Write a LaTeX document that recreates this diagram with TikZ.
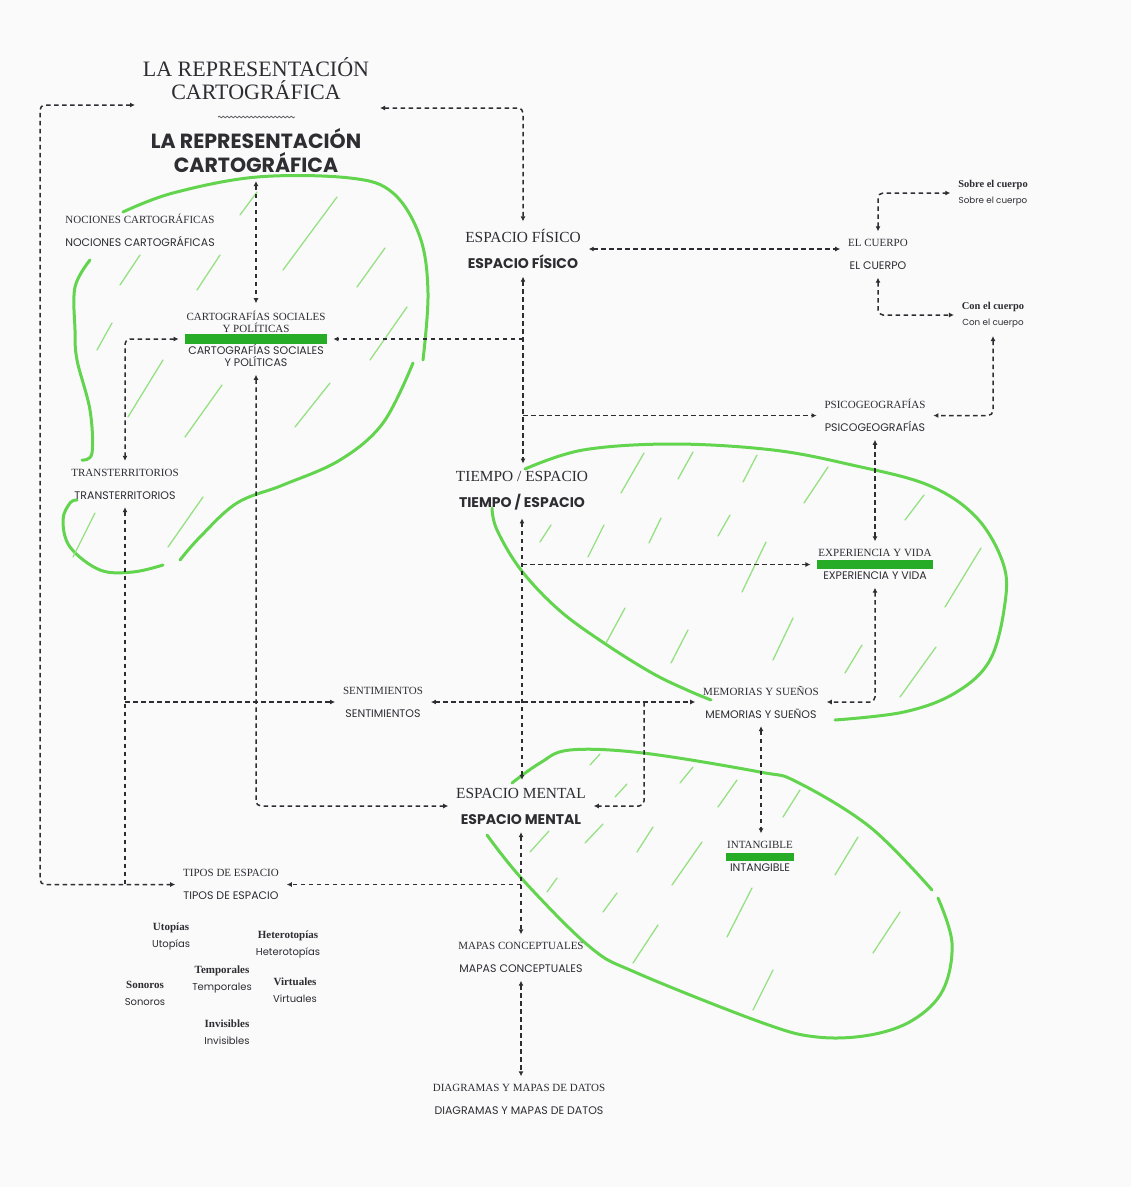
\documentclass[tikz,border=0pt]{standalone}
\usepackage{fontspec}
\setmainfont{Liberation Serif}
\newfontfamily\serf[Scale=1.1]{Liberation Serif}
\newfontfamily\sanf{Poppins}
\newfontfamily\sanfw[Scale=1.1]{Poppins}
\newfontfamily\sanfn[Scale=0.92]{Poppins}
\usetikzlibrary{arrows.meta}
\usetikzlibrary{decorations.pathmorphing}

\definecolor{ink}{RGB}{45,45,50}
\definecolor{leaf}{RGB}{98,212,78}
\definecolor{leafpale}{RGB}{150,225,130}
\definecolor{marker}{RGB}{38,172,38}
\definecolor{paper}{RGB}{250,250,251}

\newcommand{\duo}[2]{{\serf #1}\\{\sanfw #2}}
\newcommand{\duom}[2]{{\serf #1}\\{\sanf\bfseries #2}}
\newcommand{\duot}[2]{{\serf\bfseries #1}\\{\sanfn #2}}
\newcommand{\duou}[2]{{\serf\bfseries #1}\\{\sanf #2}}

\tikzset{
  item/.style={align=center, text=ink, inner sep=3pt, outer sep=5pt},
  midlbl/.style={item, font=\fontsize{14}{26}\selectfont},
  smalllbl/.style={item, font=\fontsize{10}{23}\selectfont},
  tinylbl/.style={item, font=\fontsize{9.5}{16.5}\selectfont},
  kindlbl/.style={item, font=\fontsize{10}{17}\selectfont},
  link/.style={ink, line width=1.5pt, dash pattern=on 4.5pt off 3.5pt, rounded corners=5pt,
    {Latex[length=5pt,width=5pt]}-{Latex[length=5pt,width=5pt]}},
  linkto/.style={link, -{Latex[length=5pt,width=5pt]}},
  linkfrom/.style={link, {Latex[length=5pt,width=5pt]}-},
  blob/.style={leaf, line width=3pt, line cap=round, line join=round},
  hatch/.style={leafpale, line width=1.3pt, line cap=round},
  bar/.style={marker, line width=9pt},
}

\begin{document}
\begin{tikzpicture}[x=1pt, y=-1pt]
    \fill[paper] (0,0) rectangle (1131,1187); % sheet

    % green outlines
    \draw[blob] plot[smooth, tension=0.6] coordinates {(123,212) (173,193) (257,177) (350,178) (393,193) (420,237) (428,293) (423,360)};
    \draw[blob] plot[smooth, tension=0.6] coordinates {(413,363) (383,423) (340,460) (283,485) (237,503) (200,537) (180,560)};
    \draw[blob] plot[smooth, tension=0.6] coordinates {(163,565) (133,572) (100,570) (70,547) (63,520) (70,503) (77,500)};
    \draw[blob] plot[smooth, tension=0.6] coordinates {(90,260) (75,287) (75,330) (77,360) (90,410) (92,453) (82,460)};
    \draw[blob] plot[smooth, tension=0.6] coordinates {(525,469) (583,450) (673,444) (773,450) (852,465) (928,485) (976,517) (1003,563) (1005,603) (990,660) (955,693) (904,712) (835,720)};
    \draw[blob] plot[smooth, tension=0.6] coordinates {(492,508) (497,530) (521,570) (559,610) (604,643) (652,673) (687,690) (711,700)};
    \draw[blob] plot[smooth, tension=0.6] coordinates {(512,783) (540,763) (570,750) (643,753) (760,772) (797,782) (870,827) (932,890)};
    \draw[blob] plot[smooth, tension=0.6] coordinates {(938,898) (952,943) (943,990) (913,1020) (870,1035) (817,1037) (763,1023) (637,973) (590,947) (523,880) (487,835)};

    % hatching
    \foreach \xa/\ya/\xb/\yb in {240/215/257/192, 283/270/337/197, 120/285/140/255, 197/290/220/255,
        357/287/385/248, 97/350/112/323, 370/360/407/307, 128/417/163/360, 185/437/222/385,
        295/427/330/383, 168/547/203/497, 73/557/95/513,
        621/493/644/453, 678/479/693/452, 743/482/757/455, 804/503/828/467, 905/520/924/495,
        540/542/551/525, 588/557/604/525, 649/543/661/518, 718/536/730/515, 742/592/766/542,
        945/607/981/548, 606/643/625/608, 671/663/688/630, 773/660/793/618, 845/673/862/645,
        900/697/936/647,
        590/765/600/754, 615/797/627/784, 530/852/549/831, 585/843/603/824, 637/852/653/827,
        680/783/693/767, 718/807/737/780, 783/817/800/790, 547/892/557/878, 603/912/617/893,
        672/885/702/842, 633/963/658/925, 727/937/752/888, 835/875/858/837, 873/953/900/912,
        753/1010/773/970}
        \draw[hatch] (\xa,\ya) -- (\xb,\yb);

    % titles
    \node[item, font=\serf\fontsize{20}{23}\selectfont] (titA) at (256,78.5) {LA REPRESENTACIÓN\\CARTOGRÁFICA};
    \draw[ink!75, line width=0.8pt, decorate, decoration={snake, amplitude=0.8pt, segment length=4pt}] (218,117) -- (295,117);
    \node[item, font=\sanf\bfseries\fontsize{20.5}{24}\selectfont] (titB) at (256,151) {LA REPRESENTACIÓN\\CARTOGRÁFICA};
    \coordinate (titW) at (135,105);
    \coordinate (titE) at (380,108);

    % labels
    \node[smalllbl] (noc) at (140,230.5) {\duo{NOCIONES CARTOGRÁFICAS}{NOCIONES CARTOGRÁFICAS}};
    \node[item, font=\fontsize{10}{12}\selectfont] (car) at (256,339)
        {{\serf CARTOGRAFÍAS SOCIALES}\\{\serf Y POLÍTICAS}\\[10pt]{\sanfw CARTOGRAFÍAS SOCIALES}\\{\sanfw Y POLÍTICAS}};
    \node[smalllbl] (tra) at (125,484) {\duo{TRANSTERRITORIOS}{TRANSTERRITORIOS}};
    \node[midlbl] (fis) at (523,249) {\duom{ESPACIO FÍSICO}{ESPACIO FÍSICO}};
    \node[smalllbl] (cue) at (878,254.5) {\duo{EL CUERPO}{EL CUERPO}};
    \node[tinylbl] (sob) at (993,193) {\duot{Sobre el cuerpo}{Sobre el cuerpo}};
    \node[tinylbl] (con) at (993,315) {\duot{Con el cuerpo}{Con el cuerpo}};
    \node[smalllbl] (psi) at (875,415.5) {\duo{PSICOGEOGRAFÍAS}{PSICOGEOGRAFÍAS}};
    \node[midlbl] (tie) at (522,491) {\duom{TIEMPO / ESPACIO}{TIEMPO / ESPACIO}};
    \node[smalllbl] (exp) at (875,564.5) {\duo{EXPERIENCIA Y VIDA}{EXPERIENCIA Y VIDA}};
    \node[smalllbl] (sen) at (383,702) {\duo{SENTIMIENTOS}{SENTIMIENTOS}};
    \node[smalllbl] (mem) at (761,702) {\duo{MEMORIAS Y SUEÑOS}{MEMORIAS Y SUEÑOS}};
    \node[midlbl] (men) at (521,806) {\duom{ESPACIO MENTAL}{ESPACIO MENTAL}};
    \node[smalllbl] (int) at (760,856.5) {\duo{INTANGIBLE}{INTANGIBLE}};
    \node[smalllbl] (tip) at (231,884.5) {\duo{TIPOS DE ESPACIO}{TIPOS DE ESPACIO}};
    \node[smalllbl] (map) at (521,957.5) {\duo{MAPAS CONCEPTUALES}{MAPAS CONCEPTUALES}};
    \node[smalllbl] (dia) at (519,1099.5) {\duo{DIAGRAMAS Y MAPAS DE DATOS}{DIAGRAMAS Y MAPAS DE DATOS}};
    \node[kindlbl] (uto) at (171,936.5) {\duou{Utopías}{Utopías}};
    \node[kindlbl] (het) at (288,944) {\duou{Heterotopías}{Heterotopías}};
    \node[kindlbl] (tem) at (222,979.5) {\duou{Temporales}{Temporales}};
    \node[kindlbl] (vir) at (295,990.5) {\duou{Virtuales}{Virtuales}};
    \node[kindlbl] (son) at (145,993.5) {\duou{Sonoros}{Sonoros}};
    \node[kindlbl] (inv) at (227,1032.5) {\duou{Invisibles}{Invisibles}};

    % marker strokes
    \draw[bar, line width=10pt] ([xshift=6pt]car.west) -- ([xshift=-6pt]car.east);
    \draw[bar] ([xshift=7pt]exp.west) -- ([xshift=-7pt]exp.east);
    \draw[bar, line width=8pt] ([xshift=7pt]int.west) -- ([xshift=-7pt]int.east);

    % connectors
    \draw[link] (titW) -- ++(-95,0) |- (tip.west);
    \draw[link] (titE) -| (fis.north);
    \draw[link] (titB.south) -- (titB.south |- car.north);
    \draw[link] (fis.east) -- (fis.east -| cue.west);
    \draw[link] (cue.north) |- (sob.west);
    \draw[link] (cue.south) |- (con.west);
    \draw[link] (con.south) |- (psi.east);
    \draw[link] (fis.south) -- (fis.south |- tie.north);
    \draw[linkto] (car.east -| fis.south) -- (car.east);
    \draw[linkto] (psi.west -| fis.south) -- (psi.west);
    \draw[link] (car.west) -| (tra.north);
    \draw[linkfrom] (tra.south) -- (tra.south |- tip.west);
    \draw[linkto] (tra.south |- sen.west) -- (sen.west);
    \draw[link] (sen.east) -- (mem.west);
    \coordinate (knee) at (644,0);
    \draw[linkto] (sen.east -| knee) |- (men.east);
    \draw[link] (car.south) |- (men.west);
    \draw[link] (tie.south) -- (tie.south |- men.north);
    \draw[linkto] (exp.west -| tie.south) -- (exp.west);
    \draw[link] (psi.south) -- (psi.south |- exp.north);
    \draw[link] (exp.south) |- (mem.east);
    \draw[link] (mem.south) -- (mem.south |- int.north);
    \draw[link] (men.south) -- (men.south |- map.north);
    \draw[linkto] (tip.east -| men.south) -- (tip.east);
    \draw[link] (map.south) -- (map.south |- dia.north);
\end{tikzpicture}
\end{document}
